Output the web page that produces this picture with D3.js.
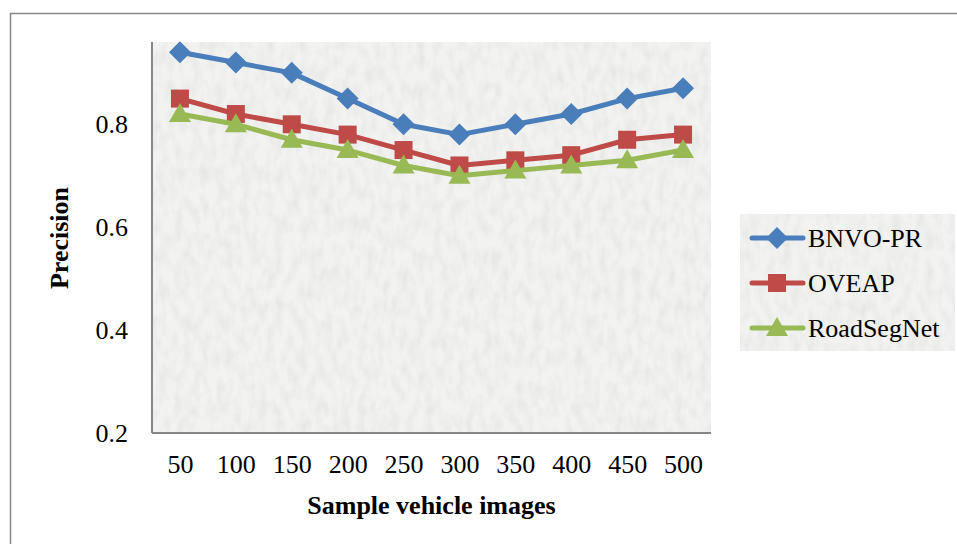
<!DOCTYPE html>
<html><head><meta charset="utf-8">
<script src="https://cdn.jsdelivr.net/npm/d3@7"></script>
<style>body{margin:0;background:#fff;}svg{display:block;}</style>
</head><body>
<svg id="c" width="957" height="544"></svg>
<script>
const categories = ["50","100","150","200","250","300","350","400","450","500"];
const bnvo = [0.94,0.92,0.90,0.85,0.80,0.78,0.80,0.82,0.85,0.87];
const oveap = [0.85,0.82,0.80,0.78,0.75,0.72,0.73,0.74,0.77,0.78];
const roadseg = [0.82,0.80,0.77,0.75,0.72,0.70,0.71,0.72,0.73,0.75];
const yTicks = [0.2,0.4,0.6,0.8];
const seriesNames = ["BNVO-PR","OVEAP","RoadSegNet"];
const colors = ["#4a7ebb","#be4b48","#98b954"];
const FONT = "Liberation Serif, Times New Roman, serif";

const svg = d3.select("#c");
const defs = svg.append("defs");
const f = defs.append("filter").attr("id","tex").attr("x",0).attr("y",0).attr("width","100%").attr("height","100%");
f.append("feTurbulence").attr("type","fractalNoise").attr("baseFrequency","0.12 0.06").attr("numOctaves",2).attr("seed",3).attr("result","n");
f.append("feColorMatrix").attr("in","n").attr("type","matrix")
 .attr("values","0 0 0 0 0.80  0 0 0 0 0.80  0 0 0 0 0.79  0 0 0 -2.2 1.35").attr("result","c");
f.append("feComposite").attr("in","c").attr("in2","SourceGraphic").attr("operator","over");

// outer border
svg.append("rect").attr("x",10.5).attr("y",13.5).attr("width",960).attr("height",560)
  .attr("fill","none").attr("stroke","#878787").attr("stroke-width",1.5);

const L=152, R=711, T=42, B=433;
const x = d3.scalePoint().domain(categories).range([L,R]).padding(0.5);
const y = d3.scaleLinear().domain([0.2,0.96]).range([B,T]);

svg.append("rect").attr("x",L).attr("y",T).attr("width",R-L).attr("height",B-T)
  .attr("fill","#f2f2f0").attr("filter","url(#tex)");

const xAxis = svg.append("g").attr("transform",`translate(0,${B})`)
  .call(d3.axisBottom(x).tickSize(0).tickPadding(22));
xAxis.select(".domain").attr("stroke","#878787").attr("stroke-width",2).attr("d",`M${L},0H${R}`);
xAxis.selectAll("text").attr("font-family",FONT).attr("font-size",26).attr("fill","#000");

const yAxis = svg.append("g").attr("transform",`translate(${L},0)`)
  .call(d3.axisLeft(y).tickValues(yTicks).tickSize(0).tickPadding(24).tickFormat(d3.format(".1f")));
yAxis.select(".domain").attr("stroke","#878787").attr("stroke-width",2).attr("d",`M0,${T}V${B}`);
yAxis.selectAll("text").attr("font-family",FONT).attr("font-size",26).attr("fill","#000");

svg.append("text").attr("x",(L+R)/2).attr("y",514).attr("text-anchor","middle")
  .attr("font-family",FONT).attr("font-size",26).attr("font-weight","bold")
  .text("Sample vehicle images");
svg.append("text").attr("transform","translate(68,238) rotate(-90)").attr("text-anchor","middle")
  .attr("font-family",FONT).attr("font-size",26).attr("font-weight","bold")
  .text("Precision");

const data = [bnvo, oveap, roadseg];
const line = d3.line().x((d,i)=>x(categories[i])).y(d=>y(d));

function marker(g, k, cx, cy){
  if(k===0){
    const s=11;
    g.append("path").attr("d",`M${cx},${cy-s}L${cx+s},${cy}L${cx},${cy+s}L${cx-s},${cy}Z`).attr("fill",colors[k]);
  } else if(k===1){
    const s=9;
    g.append("rect").attr("x",cx-s).attr("y",cy-s).attr("width",2*s).attr("height",2*s).attr("fill",colors[k]);
  } else {
    g.append("path").attr("d",`M${cx},${cy-11}L${cx+11},${cy+8}L${cx-11},${cy+8}Z`).attr("fill",colors[k]);
  }
}

data.forEach((vals,k)=>{
  const g = svg.append("g");
  g.append("path").datum(vals).attr("d",line).attr("fill","none").attr("stroke",colors[k])
    .attr("stroke-width",5).attr("stroke-linejoin","round").attr("stroke-linecap","round");
  vals.forEach((v,i)=>marker(g,k,x(categories[i]),y(v)));
});

// legend
const lg = svg.append("g");
lg.append("rect").attr("x",740).attr("y",214).attr("width",215).attr("height",137)
  .attr("fill","#f2f2f0").attr("filter","url(#tex)");
seriesNames.forEach((n,k)=>{
  const cy = 238 + k*45;
  lg.append("line").attr("x1",752).attr("x2",803).attr("y1",cy).attr("y2",cy)
    .attr("stroke",colors[k]).attr("stroke-width",5).attr("stroke-linecap","round");
  marker(lg,k,777,cy);
  lg.append("text").attr("x",808).attr("y",cy+9).attr("font-family",FONT)
    .attr("font-size",26).attr("fill","#000").text(n);
});
</script>
</body></html>
